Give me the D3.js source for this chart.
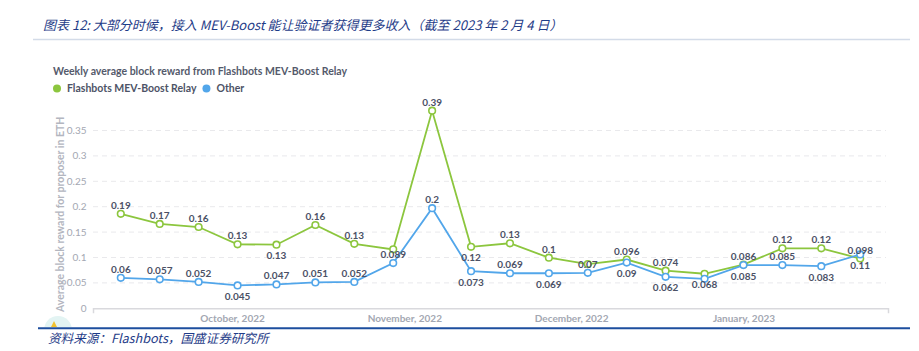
<!DOCTYPE html>
<html>
<head>
<meta charset="utf-8">
<script src="https://cdn.jsdelivr.net/npm/d3@7"></script>
<style>
  body { margin: 0; background: #fff; }
  svg text { font-family: Lato, "Noto Sans", sans-serif; }
  .cn { font-family: "Noto Sans CJK SC", sans-serif; font-style: italic; }
</style>
</head>
<body>
<svg id="chart_svg" width="919" height="351"></svg>
<script>
// weekly points
const weeks = ["2022-09-11", "2022-09-18", "2022-09-25", "2022-10-02", "2022-10-09",
    "2022-10-16", "2022-10-23", "2022-10-30", "2022-11-06", "2022-11-13",
    "2022-11-20", "2022-11-27", "2022-12-04", "2022-12-11", "2022-12-18",
    "2022-12-25", "2023-01-01", "2023-01-08", "2023-01-15", "2023-01-22"];
const flashbots = [0.186, 0.166, 0.16, 0.126, 0.1252, 0.164, 0.127, 0.116, 0.389, 0.121,
    0.128, 0.0996, 0.087, 0.096, 0.074, 0.068, 0.086, 0.118, 0.118, 0.098];
const other = [0.06, 0.057, 0.052, 0.045, 0.047, 0.051, 0.052, 0.089, 0.197, 0.073,
    0.069, 0.069, 0.0698, 0.09, 0.062, 0.058, 0.085, 0.085, 0.083, 0.106];
// label side: 1 above, -1 below, 0 hidden (overlap)
const flashbotsLabelSide = [1, 1, 1, 1, -1, 1, 1, 0, 1, -1, 1, 1, 0, 1, 1, -1, 1, 1, 1, 1];
const otherLabelSide = [1, 1, 1, -1, 1, 1, 1, 1, 1, -1, 1, -1, 1, -1, -1, 0, -1, 1, -1, -1];
const yTicks = [0, 0.05, 0.1, 0.15, 0.2, 0.25, 0.3, 0.35];
const seriesNames = ["Flashbots MEV-Boost Relay", "Other"];
const seriesColors = ["#8cc63e", "#52a6ea"];

const svg = d3.select("#chart_svg");
const parse = d3.timeParse("%Y-%m-%d");
const dates = weeks.map(parse);

// header
svg.append("text").attr("class", "cn")
    .attr("x", 43).attr("y", 30)
    .attr("fill", "#1f3c88").style("font-size", "13px")
    .text("图表 12:  大部分时候，接入 MEV-Boost 能让验证者获得更多收入（截至 2023 年 2 月 4 日）");
svg.append("line").attr("x1", 33).attr("x2", 910).attr("y1", 39.5).attr("y2", 39.5)
    .attr("stroke", "#d3dbe8").attr("stroke-width", 1.5);

// chart title + legend
svg.append("text").attr("x", 53).attr("y", 75)
    .attr("fill", "#545a6b").style("font-size", "10.5px").style("font-weight", "bold")
    .text("Weekly average block reward from Flashbots MEV-Boost Relay");

const legend = svg.append("g").attr("transform", "translate(57,92)");
let lx = 0;
seriesNames.forEach((name, i) => {
    legend.append("circle").attr("cx", lx).attr("cy", -3.5).attr("r", 4).attr("fill", seriesColors[i]);
    const t = legend.append("text").attr("x", lx + 10).attr("y", 0)
        .attr("fill", "#4d5366").style("font-size", "10.5px").style("font-weight", "bold")
        .text(name);
    lx += 10 + t.node().getComputedTextLength() + 10;
});

// scales
const xScale = d3.scaleTime()
    .domain([d3.timeDay.offset(dates[0], -5), d3.timeDay.offset(dates[dates.length - 1], 5)])
    .range([93, 888]);
const yScale = d3.scaleLinear().domain([0, 0.35]).range([308.3, 130.5]);

// grid
svg.append("g").selectAll("line").data(yTicks.slice(1)).join("line")
    .attr("x1", 93).attr("x2", 886)
    .attr("y1", d => yScale(d)).attr("y2", d => yScale(d))
    .attr("stroke", "#e9e9ec").attr("stroke-dasharray", "5,4");

// y tick labels
svg.append("g").selectAll("text").data(yTicks).join("text")
    .attr("x", 86.5).attr("y", d => yScale(d) + 3.5)
    .attr("text-anchor", "end").attr("fill", "#a3a7b2").style("font-size", "10px")
    .text(d => d3.format("~r")(d));

svg.append("text")
    .attr("transform", `translate(64,${(yScale(0) + yScale(0.37)) / 2}) rotate(-90)`)
    .attr("text-anchor", "middle").attr("fill", "#b3b6bf")
    .style("font-size", "10.5px").style("font-weight", "bold")
    .text("Average block reward for proposer in ETH");

// x axis
const xAxis = svg.append("g").attr("transform", `translate(0,${yScale(0)})`)
    .call(d3.axisBottom(xScale).ticks(d3.timeMonth).tickFormat(d3.timeFormat("%B, %Y"))
        .tickSizeInner(0).tickSizeOuter(5).tickPadding(7));
xAxis.select(".domain").attr("stroke", "#d9d9dd").attr("stroke-width", 1.5);
xAxis.selectAll(".tick text").attr("fill", "#a3a7b2")
    .style("font-size", "10px").style("font-weight", "bold")
    .style("font-family", "Lato, sans-serif");

// lines
const line = d3.line().x((d, i) => xScale(dates[i])).y(d => yScale(d));
const fmt = d3.format(".2~r");
const series = [[flashbots, flashbotsLabelSide], [other, otherLabelSide]];
series.forEach(([vals], s) => {
    svg.append("path").datum(vals).attr("d", line)
        .attr("fill", "none").attr("stroke", seriesColors[s]).attr("stroke-width", 1.8);
});
series.forEach(([vals], s) => {
    svg.append("g").selectAll("circle").data(vals).join("circle")
        .attr("cx", (d, i) => xScale(dates[i])).attr("cy", d => yScale(d)).attr("r", 3.3)
        .attr("fill", "#fff").attr("stroke", seriesColors[s]).attr("stroke-width", 1.6);
});
series.forEach(([vals, sides]) => {
    const pts = vals.map((v, i) => ({ v: v, date: dates[i], side: sides[i] }))
        .filter(p => p.side !== 0);
    svg.append("g").selectAll("text").data(pts).join("text")
        .attr("x", p => xScale(p.date))
        .attr("y", p => yScale(p.v) + (p.side > 0 ? -5 : 14.5))
        .attr("text-anchor", "middle").attr("fill", "#4b5166")
        .style("font-size", "10px").style("font-weight", "bold")
        .text(p => fmt(p.v));
});

// little widget circle at the corner
svg.append("clipPath").attr("id", "clipTop").append("rect")
    .attr("x", 0).attr("y", 0).attr("width", 919).attr("height", 327);
svg.append("circle").attr("cx", 58).attr("cy", 330).attr("r", 14)
    .attr("fill", "#e3f4f3").attr("clip-path", "url(#clipTop)");
svg.append("path").attr("d", "M54,321 L57,327 L51,327 Z").attr("fill", "#f2c230");

// footer
svg.append("line").attr("x1", 38).attr("x2", 910).attr("y1", 328.3).attr("y2", 328.3)
    .attr("stroke", "#1d4e9e").attr("stroke-width", 2);
svg.append("text").attr("class", "cn")
    .attr("x", 48).attr("y", 343)
    .attr("fill", "#1f3c88").style("font-size", "12.6px")
    .text("资料来源：Flashbots，国盛证券研究所");
</script>
</body>
</html>
